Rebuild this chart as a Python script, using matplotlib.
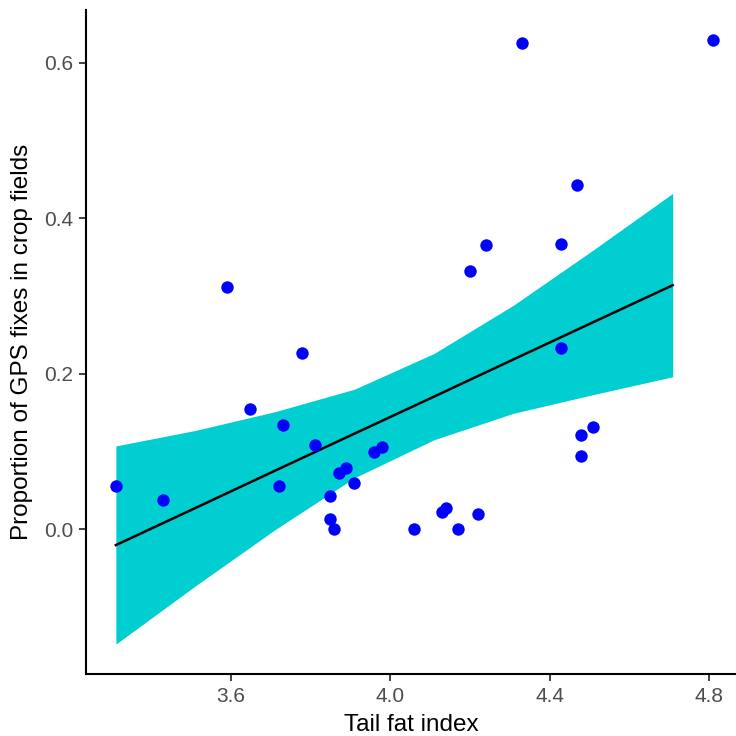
import matplotlib
matplotlib.use('Agg')
import matplotlib.pyplot as plt

# Observed data: tail fat index vs proportion of GPS fixes in crop fields
tail_fat = [3.311, 3.430, 3.590, 3.649, 3.730, 3.720, 3.779, 3.810, 3.849, 3.849,
            3.859, 3.870, 3.889, 3.910, 3.960, 3.980, 4.059, 4.130, 4.140, 4.170,
            4.219, 4.200, 4.240, 4.330, 4.429, 4.429, 4.469, 4.479, 4.479, 4.510,
            4.809]
prop_crop = [0.055, 0.037, 0.312, 0.154, 0.134, 0.056, 0.227, 0.108, 0.042, 0.013,
             0.000, 0.072, 0.079, 0.059, 0.099, 0.106, 0.000, 0.022, 0.027, 0.000,
             0.020, 0.332, 0.365, 0.626, 0.367, 0.233, 0.443, 0.121, 0.094, 0.131,
             0.629]

# Fitted line and confidence band
fit_x = [3.311, 3.511, 3.710, 3.910, 4.110, 4.309, 4.509, 4.709]
fit_y = [-0.0206, 0.0272, 0.0750, 0.1228, 0.1705, 0.2183, 0.2661, 0.3138]
ci_upper = [0.107, 0.127, 0.151, 0.180, 0.226, 0.288, 0.359, 0.432]
ci_lower = [-0.148, -0.073, -0.001, 0.066, 0.115, 0.149, 0.173, 0.196]

x_ticks = [3.6, 4.0, 4.4, 4.8]
y_ticks = [0.0, 0.2, 0.4, 0.6]

plt.rcParams['font.family'] = ['Liberation Sans', 'DejaVu Sans']

fig = plt.figure(figsize=(7.36, 7.36), dpi=100)
ax = fig.add_axes([86 / 736, 62 / 736, 650 / 736, 664 / 736])

ax.fill_between(fit_x, ci_lower, ci_upper, color='#00CED1', linewidth=0, zorder=1)
ax.plot(fit_x, fit_y, color='black', linewidth=1.8, zorder=2)
ax.scatter(tail_fat, prop_crop, s=80, color='#0000FF', linewidths=0, zorder=3)

ax.set_xlim(3.236, 4.868)
ax.set_ylim(-0.1865, 0.668)
ax.set_xticks(x_ticks)
ax.set_xticklabels([f'{v:.1f}' for v in x_ticks])
ax.set_yticks(y_ticks)
ax.set_yticklabels([f'{v:.1f}' for v in y_ticks])

ax.set_xlabel('Tail fat index', fontsize=17.5, color='black', labelpad=6)
ax.set_ylabel('Proportion of GPS fixes in crop fields', fontsize=17.5, color='black', labelpad=8)

ax.spines['top'].set_visible(False)
ax.spines['right'].set_visible(False)
for side in ['left', 'bottom']:
    ax.spines[side].set_linewidth(1.5)
    ax.spines[side].set_color('black')
ax.tick_params(axis='both', length=5, width=1.3, color='#333333',
               labelsize=15, labelcolor='#4D4D4D', pad=4)

fig.savefig('out.png', dpi=100, facecolor='white')
